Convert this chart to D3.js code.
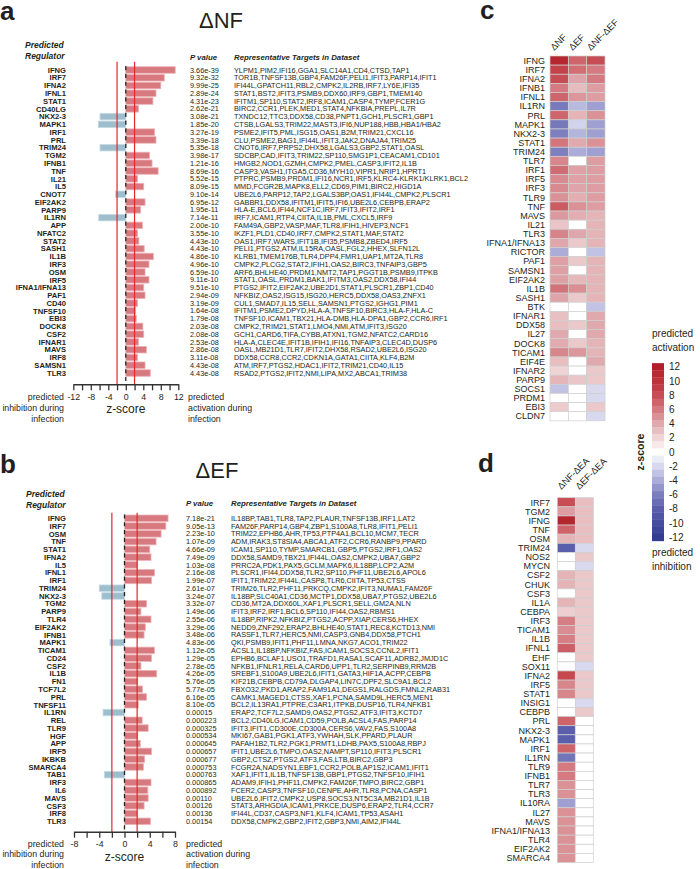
<!DOCTYPE html>
<html><head><meta charset="utf-8">
<script src="https://cdn.jsdelivr.net/npm/d3@7"></script>
<style>
body{margin:0;background:#fff}
svg{display:block}
text{font-family:"Liberation Sans",Arial,Helvetica,sans-serif;fill:#231f20}
</style>
</head><body>
<svg id="chart" width="700" height="869"></svg>
<script>
// ---------------- DATA ----------------
const regA = ["IFNG","IRF7","IFNA2","IFNL1","STAT1","CD40LG","NKX2-3","MAPK1","IRF1","PRL","TRIM24","TGM2","IFNB1","TNF","IL21","IL5","CNOT7","EIF2AK2","PARP9","IL1RN","APP","NFATC2","STAT2","SASH1","IL1B","IRF3","OSM","IRF5","IFNA1/IFNA13","PAF1","CD40","TNFSF10","EBI3","DOCK8","CSF2","IFNAR1","MAVS","IRF8","SAMSN1","TLR3"];
const zA = [11.3,8.8,8.0,6.9,6.2,2.9,-5.9,-6.3,6.6,6.9,-5.9,5.4,6.0,7.4,2.7,4.1,-2.4,4.4,3.4,-6.2,3.8,2.7,3.0,4.2,6.3,5.3,4.4,5.3,4.1,4.4,2.7,2.2,2.4,3.9,4.1,2.9,4.7,2.7,4.4,5.6];
const pA = ["3.66e-39","9.32e-32","9.99e-25","2.89e-24","4.31e-23","2.62e-21","3.08e-21","1.85e-20","3.27e-19","3.39e-18","5.35e-18","3.98e-17","1.21e-16","8.69e-16","5.52e-15","8.09e-15","9.10e-14","6.95e-12","1.95e-11","7.14e-11","2.00e-10","3.55e-10","4.43e-10","4.43e-10","4.86e-10","4.96e-10","6.59e-10","9.11e-10","9.51e-10","2.94e-09","3.19e-09","1.64e-08","1.79e-08","2.03e-08","2.08e-08","2.53e-08","2.86e-08","3.11e-08","4.43e-08","4.43e-08"];
const targetsA = [
"YLPM1,PIM2,IFI16,GGA1,SLC14A1,CD4,CTSD,TAP1",
"TOR1B,TNFSF13B,GBP4,FAM26F,PELI1,IFIT3,PARP14,IFIT1",
"IFI44L,GPATCH11,RBL2,CMPK2,IL2RB,IRF7,LY6E,IFI35",
"STAT1,BST2,IFIT3,PSMB9,DDX60,IRF9,GBP1,TMEM140",
"IFITM1,SP110,STAT2,IRF8,ICAM1,CASP4,TYMP,FCER1G",
"BIRC2,CCR1,PLEK,MED1,STAT4,NFKBIA,PREPL,IL7R",
"TXNDC12,TTC3,DDX58,CD38,PNPT1,GCH1,PLSCR1,GBP1",
"CTSB,LGALS3,TRIM22,MAST3,IFI6,NUP188,HBB,HBA1/HBA2",
"PSME2,IFIT5,PML,ISG15,OAS1,B2M,TRIM21,CXCL16",
"CLU,PSME2,BAG1,IFI44L,IFIT3,JAK2,DNAJA4,TRIM25",
"CNOT6,IRF7,PRPS2,DHX58,LGALS3,GBP2,STAT1,OASL",
"SDCBP,CAD,IFIT3,TRIM22,SP110,SMG1P1,CEACAM1,CD101",
"HMGB2,NOD1,GZMH,CMPK2,PMEL,CASP3,IFIT2,IL1B",
"CASP3,VASH1,ITGA5,CD36,MYH10,VIPR1,NRIP1,HPRT1",
"PTPRC,PSMB9,PRDM1,IFI16,NCR1,IRF5,KLRC4-KLRK1/KLRK1,BCL2",
"MMD,FCGR2B,MAPK8,ELL2,CD69,PIM1,BIRC2,HIGD1A",
"UBE2L6,PARP12,TAP2,LGALS3BP,OAS1,IFI44L,CMPK2,PLSCR1",
"GABBR1,DDX58,IFITM1,IFIT5,IFI6,UBE2L6,CEBPB,ERAP2",
"HLA-E,BCL6,IFI44,NCF1C,IRF7,IFIT3,IFIT2,IRF1",
"IRF7,ICAM1,RTP4,CIITA,IL1B,PML,CXCL5,IRF9",
"FAM49A,GBP2,VASP,MAF,TLR8,IFIH1,HIVEP3,NCF1",
"IKZF1,PLD1,CD40,IRF7,CMPK2,STAT1,MAF,STAT2",
"OAS1,IRF7,WARS,IFIT1B,IFI35,PSMB8,ZBED4,IRF5",
"PELI1,PTGS2,ATM,IL15RA,OASL,FGL2,HHEX,SLFN12L",
"KLRB1,TMEM176B,TLR4,DPP4,FMR1,UAP1,MT2A,TLR8",
"CMPK2,PLCG2,STAT2,IFIH1,OAS2,BIRC3,TNFAIP3,GBP5",
"ARF6,BHLHE40,PRDM1,NMT2,TAP1,PGGT1B,PSMB9,ITPKB",
"STAT1,OASL,PRDM1,BAK1,IFITM3,OAS2,DDX58,IFI44",
"PTGS2,IFIT2,EIF2AK2,UBE2D1,STAT1,PLSCR1,ZBP1,CD40",
"NFKBIZ,OAS2,ISG15,ISG20,HERC5,DDX58,OAS3,ZNFX1",
"CUL1,SMAD7,IL15,SELL,SAMSN1,PTGS2,IGHG1,PIM1",
"IFITM1,PSME2,DPYD,HLA-A,TNFSF10,BIRC3,HLA-F,HLA-C",
"TNFSF10,ICAM1,TBX21,HLA-DMB,HLA-DPA1,GBP2,CCR6,IRF1",
"CMPK2,TRIM21,STAT1,LMO4,NMI,ATM,IFIT3,ISG20",
"GCH1,CARD6,TIFA,CYBB,ATXN1,TGM2,NFATC2,CARD16",
"HLA-A,CLEC4E,IFIT1B,IFIH1,IFI16,TNFAIP3,CLEC4D,DUSP6",
"OASL,MB21D1,TLR7,IFIT2,DHX58,RSAD2,UBE2L6,ISG20",
"DDX58,CCR8,CCR2,CDKN1A,GATA1,CIITA,KLF4,B2M",
"ATM,IRF7,PTGS2,HDAC1,IFIT2,TRIM21,CD40,IL15",
"RSAD2,PTGS2,IFIT2,NMI,LIPA,MX2,ABCA1,TRIM38"];

const regB = ["IFNG","IRF7","OSM","TNF","STAT1","IFNA2","IL5","IFNL1","IRF1","TRIM24","NKX2-3","TGM2","PARP9","TLR4","EIF2AK2","IFNB1","MAPK1","TICAM1","CD24","CSF2","IL1B","FN1","TCF7L2","PRL","TNFSF11","IL1RN","REL","TLR9","HGF","APP","IRF5","IKBKB","SMARCA4","TAB1","IRF3","IL6","MAVS","CSF3","IRF8","TLR3"];
const zB = [6.9,6.55,5.8,5.0,4.0,4.2,2.1,4.75,4.3,-4.0,-3.6,3.5,2.6,4.2,3.3,3.1,-2.3,4.75,4.3,2.6,5.1,2.1,2.85,3.5,2.2,-3.4,2.8,3.75,2.1,2.5,4.3,3.2,3.0,-3.2,4.2,3.7,3.75,3.1,2.1,4.1];
const pB = ["7.18e-21","9.05e-13","2.23e-10","1.07e-09","4.66e-09","7.49e-09","1.03e-08","2.16e-08","1.99e-07","2.61e-07","3.24e-07","3.32e-07","1.49e-06","2.55e-06","3.29e-06","3.48e-06","4.83e-06","1.12e-05","1.29e-05","2.78e-05","4.26e-05","5.76e-05","5.77e-05","6.16e-05","8.10e-05","0.00015","0.000223","0.000325","0.000534","0.000645","0.000657","0.000677","0.000753","0.000763","0.000865","0.000892","0.00110","0.00126","0.00136","0.00154"];
const targetsB = [
"IL18BP,TAB1,TLR8,TAP2,PLAUR,TNFSF13B,IRF1,LAT2",
"FAM26F,PARP14,GBP4,ZBP1,S100A8,TLR8,IFIT1,PELI1",
"TRIM22,EPHB6,AHR,TP53,PTP4A1,BCL10,MCM7,TECR",
"ADM,IRAK3,ST8SIA4,ABCA1,ATF2,CCR6,RANBP9,PPARD",
"ICAM1,SP110,TYMP,SMARCB1,GBP5,PTGS2,IRF1,OAS2",
"DDX58,SAMD9,TBX21,IFI44L,OAS2,CMPK2,UBA7,GBP2",
"PRRC2A,PDK1,PAX5,GCLM,MAPK6,IL18BP,LCP2,A2M",
"PLSCR1,IFI44,DDX58,TLR2,SP110,PHF11,UBE2L6,APOL6",
"IFIT1,TRIM22,IFI44L,CASP8,TLR6,CIITA,TP53,CTSS",
"TRIM26,TLR2,PHF11,PRKCQ,CMPK2,IFIT3,NUMA1,FAM26F",
"IL18BP,SLC40A1,CD36,MCTP1,DDX58,UBA7,PTGS2,UBE2L6",
"CD36,MT2A,DDX60L,XAF1,PLSCR1,SELL,GM2A,NLN",
"IFIT3,IRF2,IRF1,BCL6,SP110,IFI44,OAS2,RBMS1",
"IL18BP,RIPK2,NFKBIZ,PTGS2,ACPP,XIAP,CERS6,HHEX",
"NEDD9,ZNF292,ERAP2,BHLHE40,STAT1,REC8,KCTD13,NMI",
"RASSF1,TLR7,HERC5,NMI,CASP3,GNB4,DDX58,PTCH1",
"QKI,PSMB9,IFIT1,PHF11,LMNA,NKG7,ACO1,TRIM22",
"ACSL1,IL18BP,NFKBIZ,FAS,ICAM1,SOCS3,CCNL2,IFIT1",
"EPHB6,BCLAF1,USO1,TRAFD1,RASA1,SCAF11,ADRB2,JMJD1C",
"NFKB1,IFNLR1,RELA,CARD6,UPP1,TLR2,SERPINB9,RRM2B",
"SREBF1,S100A9,UBE2L6,IFIT1,GATA3,HIF1A,ACPP,CEBPB",
"KIF21B,CEBPB,CD79A,DLGAP4,LIN7C,DPF2,SLC9A1,BCL2",
"FBXO32,PKD1,ARAP2,FAM91A1,DEGS1,RALGDS,FMNL2,RAB31",
"CAMK1,MAGED1,CTSS,XAF1,PCNA,SAMD9L,HERC5,MEN1",
"BCL2,IL13RA1,PTPRE,C3AR1,ITPKB,DUSP16,TLR4,NFKB1",
"ERAP2,TCF7L2,SAMD9,OAS2,PTGS2,ATF3,IFIT3,KCTD7",
"BCL2,CD40LG,ICAM1,CD59,POLB,ACSL4,FAS,PARP14",
"IFIT3,IFIT1,CD300E,CD300A,CERS6,VAV2,FAS,S100A8",
"MKI67,GAB1,PGK1,ATF3,YWHAH,SLK,PPARD,PLAUR",
"PAFAH1B2,TLR2,PGK1,PRMT1,LDHB,PAX5,S100A8,RBPJ",
"IFIT1,UBE2L6,TMPO,OAS2,NAMPT,SP110,IFIT3,PLSCR1",
"GBP2,CTSZ,PTGS2,ATF3,FAS,LTB,BIRC2,GBP3",
"FCGR2A,NADSYN1,EBF1,CCR2,POLB,AP1S2,ICAM1,IFIT1",
"XAF1,IFIT1,IL1B,TNFSF13B,GBP1,PTGS2,TNFSF10,IFIH1",
"ADAM9,IFIH1,PHF11,CMPK2,FAM26F,TMPO,BIRC2,GBP1",
"FCER2,CASP3,TNFSF10,CENPE,AHR,TLR8,PCNA,CASP1",
"UBE2L6,IFIT2,CMPK2,USP8,SOCS3,NT5C3A,MB21D1,IL1B",
"STAT3,ARHGDIA,ICAM1,PRKCE,DUSP6,ERAP2,TLR4,CCR7",
"IFI44L,CD37,CASP3,NF1,KLF4,ICAM1,TP53,ASAH1",
"DDX58,CMPK2,GBP2,IFIT2,GBP3,NMI,AIM2,IFI44L"];

const ticksA = [-12,-8,-4,0,4,8,12];
const ticksB = [-8,-4,0,4,8];

const rowsC = ["IFNG","IRF7","IFNA2","IFNB1","IFNL1","IL1RN","PRL","MAPK1","NKX2-3","STAT1","TRIM24","TLR7","IRF1","IRF5","IRF3","TLR9","TNF","MAVS","IL21","TLR3","IFNA1/IFNA13","RICTOR","PAF1","SAMSN1","EIF2AK2","IL1B","SASH1","BTK","IFNAR1","DDX58","IL27","DOCK8","TICAM1","EIF4E","IFNAR2","PARP9","SOCS1","PRDM1","EBI3","CLDN7"];
const colsC = ["ΔNF","ΔEF","ΔNF-ΔEF"];
const heatC_NF   = [11.3,8.8,8.0,6.0,6.9,-6.2,6.9,-6.3,-5.9,6.2,-5.9,5.5,6.6,5.3,5.3,5.0,7.4,4.7,2.7,5.6,4.1,-4.0,4.4,4.4,4.4,6.3,4.2,0,2.9,3.0,4.0,3.9,5.5,3.0,2.0,3.4,-3.0,0,2.4,0];
const heatC_EF   = [6.9,6.5,4.2,3.1,4.75,-3.4,3.5,-2.3,-3.6,4.0,-4.0,0,4.3,4.3,4.2,3.75,5.0,3.75,0,4.1,2.5,0,2.5,0,3.3,5.1,2.5,0,0,2.5,0,2.5,4.75,0,0,2.6,0,0,0,0];
const heatC_NFEF = [8.0,6.0,6.0,4.5,4.5,-4.5,5.0,-4.5,-4.5,5.0,-4.5,4.5,4.5,4.5,4.5,4.5,4.5,3.5,3.5,3.5,3.5,-3.0,3.5,3.5,3.5,3.5,3.5,-3.0,4.0,4.0,4.0,3.5,3.5,4.0,2.5,2.5,-2.0,-2.0,2.5,-2.0];

const rowsD = ["IRF7","TGM2","IFNG","TNF","OSM","TRIM24","NOS2","MYCN","CSF2","CHUK","CSF3","IL1A","CEBPA","IRF3","TICAM1","IL1B","IFNL1","EHF","SOX11","IFNA2","IRF5","STAT1","INSIG1","CEBPB","PRL","NKX2-3","MAPK1","IRF1","IL1RN","TLR9","IFNB1","TLR7","TLR3","IL10RA","IL27","MAVS","IFNA1/IFNA13","TLR4","EIF2AK2","SMARCA4"];
const colsD = ["ΔNF-ΔEA","ΔEF-ΔEA"];
const heatD_NFEA = [8.0,4.5,11.3,7.0,3.5,-8.0,0,0,3.5,3.5,0,3.5,2.2,5.8,5.2,5.8,7.2,0,0,8.3,5.5,5.5,0,0,7.0,-8.0,-8.0,7.0,-6.5,6.0,6.0,5.0,5.0,-4.5,5.0,5.0,5.0,5.0,5.0,5.0];
const heatD_EFEA = [3.0,3.0,3.0,3.0,3.0,-2.0,2.5,-2.0,2.5,2.5,2.5,2.5,2.5,2.5,2.5,2.5,2.5,2.5,-2.0,2.5,2.5,2.5,-2.0,2.5,0,0,0,0,0,0,0,0,0,0,0,0,0,0,0,0];

const legendTicks = [12,10,8,6,4,2,0,-2,-4,-6,-8,-10,-12];

// ---------------- STYLE ----------------
const colorStops = [-12,-10,-8,-6,-4,-2,0,2,4,6,8,10,12];
const colorRange = ["#323c90","#464d9f","#5a5eab","#7b7dbd","#abacd8","#d8d9ef","#ffffff","#efd3d5","#e0a9ad","#d47a80","#c84c53","#be3239","#b21f2a"];
const color = d3.scaleLinear().domain(colorStops).range(colorRange).clamp(true);

const svg = d3.select("#chart");
svg.append("rect").attr("width",700).attr("height",869).attr("fill","#fff");

const ROW = 7.77;
const TXT = 7.3;

function barPanel(o){
  const g = svg.append("g");
  const x = d3.scaleLinear().domain(o.domain).range(o.xRange);
  const y = d3.scaleBand().domain(o.regs).range([o.top, o.top + o.regs.length*ROW]).paddingInner(0.16).paddingOuter(0.08);
  const cy = r => y(r) + y.bandwidth()/2;

  g.append("text").attr("x",o.letterX).attr("y",o.letterY).attr("font-size",26).attr("font-weight","bold").text(o.letter);
  g.append("text").attr("x",o.titleX).attr("y",o.titleY).attr("text-anchor","middle").attr("font-size",22).text(o.title);

  g.append("text").attr("x",o.hdrX).attr("y",o.hdrY).attr("font-size",8.5).attr("font-weight","bold").attr("font-style","italic").text("Predicted");
  g.append("text").attr("x",o.hdrX).attr("y",o.hdrY+11).attr("font-size",8.5).attr("font-weight","bold").attr("font-style","italic").text("Regulator");
  g.append("text").attr("x",o.pX).attr("y",o.colHdrY).attr("font-size",7.8).attr("font-weight","bold").attr("font-style","italic").text("P value");
  g.append("text").attr("x",o.tX).attr("y",o.colHdrY).attr("font-size",7.8).attr("font-weight","bold").attr("font-style","italic").text("Representative Targets in Dataset");

  g.selectAll("rect.bar").data(o.regs).join("rect").attr("class","bar")
    .attr("x",(r,i)=>x(Math.min(0,o.z[i])))
    .attr("width",(r,i)=>Math.abs(x(o.z[i])-x(0)))
    .attr("y",r=>y(r)).attr("height",y.bandwidth())
    .attr("fill",(r,i)=>o.z[i]>0?"#d8787f":"#9fbecd")
    .attr("stroke",(r,i)=>o.z[i]>0?"#edb3b7":"#c8dbe4").attr("stroke-width",0.8);

  [-2,2].forEach(v=>{
    g.append("line").attr("x1",x(v)).attr("x2",x(v)).attr("y1",o.lineTop).attr("y2",o.axisY)
      .attr("stroke","#e2262c").attr("stroke-width",1.2);
  });
  g.append("line").attr("x1",x(0)).attr("x2",x(0)).attr("y1",o.top).attr("y2",o.axisY)
    .attr("stroke","#222").attr("stroke-width",1.3).attr("stroke-dasharray","4.2,3.57");

  g.selectAll("text.reg").data(o.regs).join("text").attr("class","reg")
    .attr("x",o.labelX).attr("y",cy).attr("dy","0.36em").attr("text-anchor","end")
    .attr("font-size",7.6).attr("font-weight","bold").text(d=>d);
  g.selectAll("text.pv").data(o.regs).join("text").attr("class","pv")
    .attr("x",o.pX).attr("y",cy).attr("dy","0.36em").attr("font-size",TXT).text((d,i)=>o.p[i]);
  g.selectAll("text.tg").data(o.regs).join("text").attr("class","tg")
    .attr("x",o.tX).attr("y",cy).attr("dy","0.36em").attr("font-size",TXT).text((d,i)=>o.targets[i]);

  const axis = d3.axisBottom(x).tickValues(d3.range(o.domain[0],o.domain[1]+0.01,2))
    .tickFormat(v=>o.labels.includes(v)?String(v):"")
    .tickSize(6).tickSizeOuter(0).tickPadding(3);
  const ag = g.append("g").attr("transform",`translate(0,${o.axisY})`).call(axis);
  ag.select(".domain").attr("stroke","#333").attr("stroke-width",1.4);
  ag.selectAll(".tick line").attr("stroke","#333").attr("stroke-width",1.3);
  ag.selectAll(".tick text").attr("font-size",8.8).attr("fill","#231f20")
    .style("font-family","'Liberation Sans',Arial,sans-serif");

  g.append("text").attr("x",x(0)).attr("y",o.axisY+29).attr("text-anchor","middle").attr("font-size",12).text("z-score");

  const lt = ["predicted","inhibition during","infection"];
  const rt = ["predicted","activation during","infection"];
  lt.forEach((t,i)=>g.append("text").attr("x",o.leftNoteX).attr("y",o.axisY+o.noteDy+i*o.noteGap).attr("text-anchor","end").attr("font-size",8.8).attr("fill","#333").text(t));
  rt.forEach((t,i)=>g.append("text").attr("x",o.rightNoteX).attr("y",o.axisY+o.noteDy+i*o.noteGap).attr("font-size",8.8).attr("fill","#333").text(t));
}

barPanel({letter:"a",letterX:0,letterY:20,title:"ΔNF",titleX:221,titleY:28,
  hdrX:25,hdrY:47.5,colHdrY:59.5,pX:190,tX:234,labelX:66,
  regs:regA,z:zA,p:pA,targets:targetsA,
  domain:[-12,12],labels:ticksA,xRange:[73.3,178.3],top:66.1,lineTop:61.7,axisY:384.3,
  leftNoteX:64,rightNoteX:188,noteDy:15.5,noteGap:11});

barPanel({letter:"b",letterX:0,letterY:473,title:"ΔEF",titleX:217,titleY:478,
  hdrX:26,hdrY:497,colHdrY:505.5,pX:186,tX:231,labelX:66,
  regs:regB,z:zB,p:pB,targets:targetsB,
  domain:[-8,8],labels:ticksB,xRange:[74,175],top:514.4,lineTop:512.7,axisY:831.7,
  leftNoteX:64,rightNoteX:186,noteDy:15,noteGap:10.5});

// ---------------- HEATMAPS ----------------
const HROW = 9.12;
function heatPanel(o){
  const g = svg.append("g");
  const x = d3.scaleBand().domain(o.cols).range(o.xRange);
  const y = d3.scaleBand().domain(o.rows).range([o.top, o.top + o.rows.length*HROW]);
  g.append("text").attr("x",o.letterX).attr("y",o.letterY).attr("font-size",26).attr("font-weight","bold").text(o.letter);
  o.cols.forEach((c,j)=>{
    g.selectAll(null).data(o.rows).join("rect")
      .attr("x",x(c)).attr("y",r=>y(r)).attr("width",x.bandwidth()).attr("height",y.bandwidth())
      .attr("fill",(r,i)=>color(o.values[j][i])).attr("stroke","#cfcfcf").attr("stroke-width",0.7);
    const cx = x(c)+x.bandwidth()/2 - 5;
    g.append("text").attr("transform",`translate(${cx},${o.hdrY}) rotate(-45)`).attr("font-size",9.3).text(c);
  });
  g.selectAll("text.hr").data(o.rows).join("text").attr("class","hr")
    .attr("x",o.labelX).attr("y",r=>y(r)+y.bandwidth()/2).attr("dy","0.36em").attr("text-anchor","end")
    .attr("font-size",9).text(d=>d);
}
heatPanel({letter:"c",letterX:480,letterY:19,cols:colsC,rows:rowsC,values:[heatC_NF,heatC_EF,heatC_NFEF],
  xRange:[550,605],top:56,hdrY:51,labelX:545});
heatPanel({letter:"d",letterX:478,letterY:472,cols:colsD,rows:rowsD,values:[heatD_NFEA,heatD_EFEA],
  xRange:[557.3,593.3],top:497.7,hdrY:490,labelX:550});

// ---------------- LEGEND ----------------
const ly = d3.scaleLinear().domain([12,-12]).range([366.7,537.3]);
const lg = svg.append("g");
const steps = d3.range(12,-12.5,-1);
lg.selectAll("rect").data(steps).join("rect")
  .attr("x",652).attr("width",12).attr("y",v=>ly(v+0.5)).attr("height",v=>ly(v-0.5)-ly(v+0.5)+0.3)
  .attr("fill",v=>color(v));
lg.selectAll("text.lt").data(legendTicks).join("text").attr("class","lt")
  .attr("x",669).attr("y",v=>ly(v)).attr("dy","0.36em").attr("font-size",10).text(v=>v);
lg.append("text").attr("x",652).attr("y",337).attr("font-size",10).text("predicted");
lg.append("text").attr("x",652).attr("y",351).attr("font-size",10).text("activation");
lg.append("text").attr("x",652).attr("y",556).attr("font-size",10).text("predicted");
lg.append("text").attr("x",652).attr("y",570).attr("font-size",10).text("inhibition");
lg.append("text").attr("transform",`translate(644,${ly(0)}) rotate(-90)`).attr("text-anchor","middle")
  .attr("font-size",10.5).attr("font-weight","bold").text("z-score");
</script>
</body></html>
